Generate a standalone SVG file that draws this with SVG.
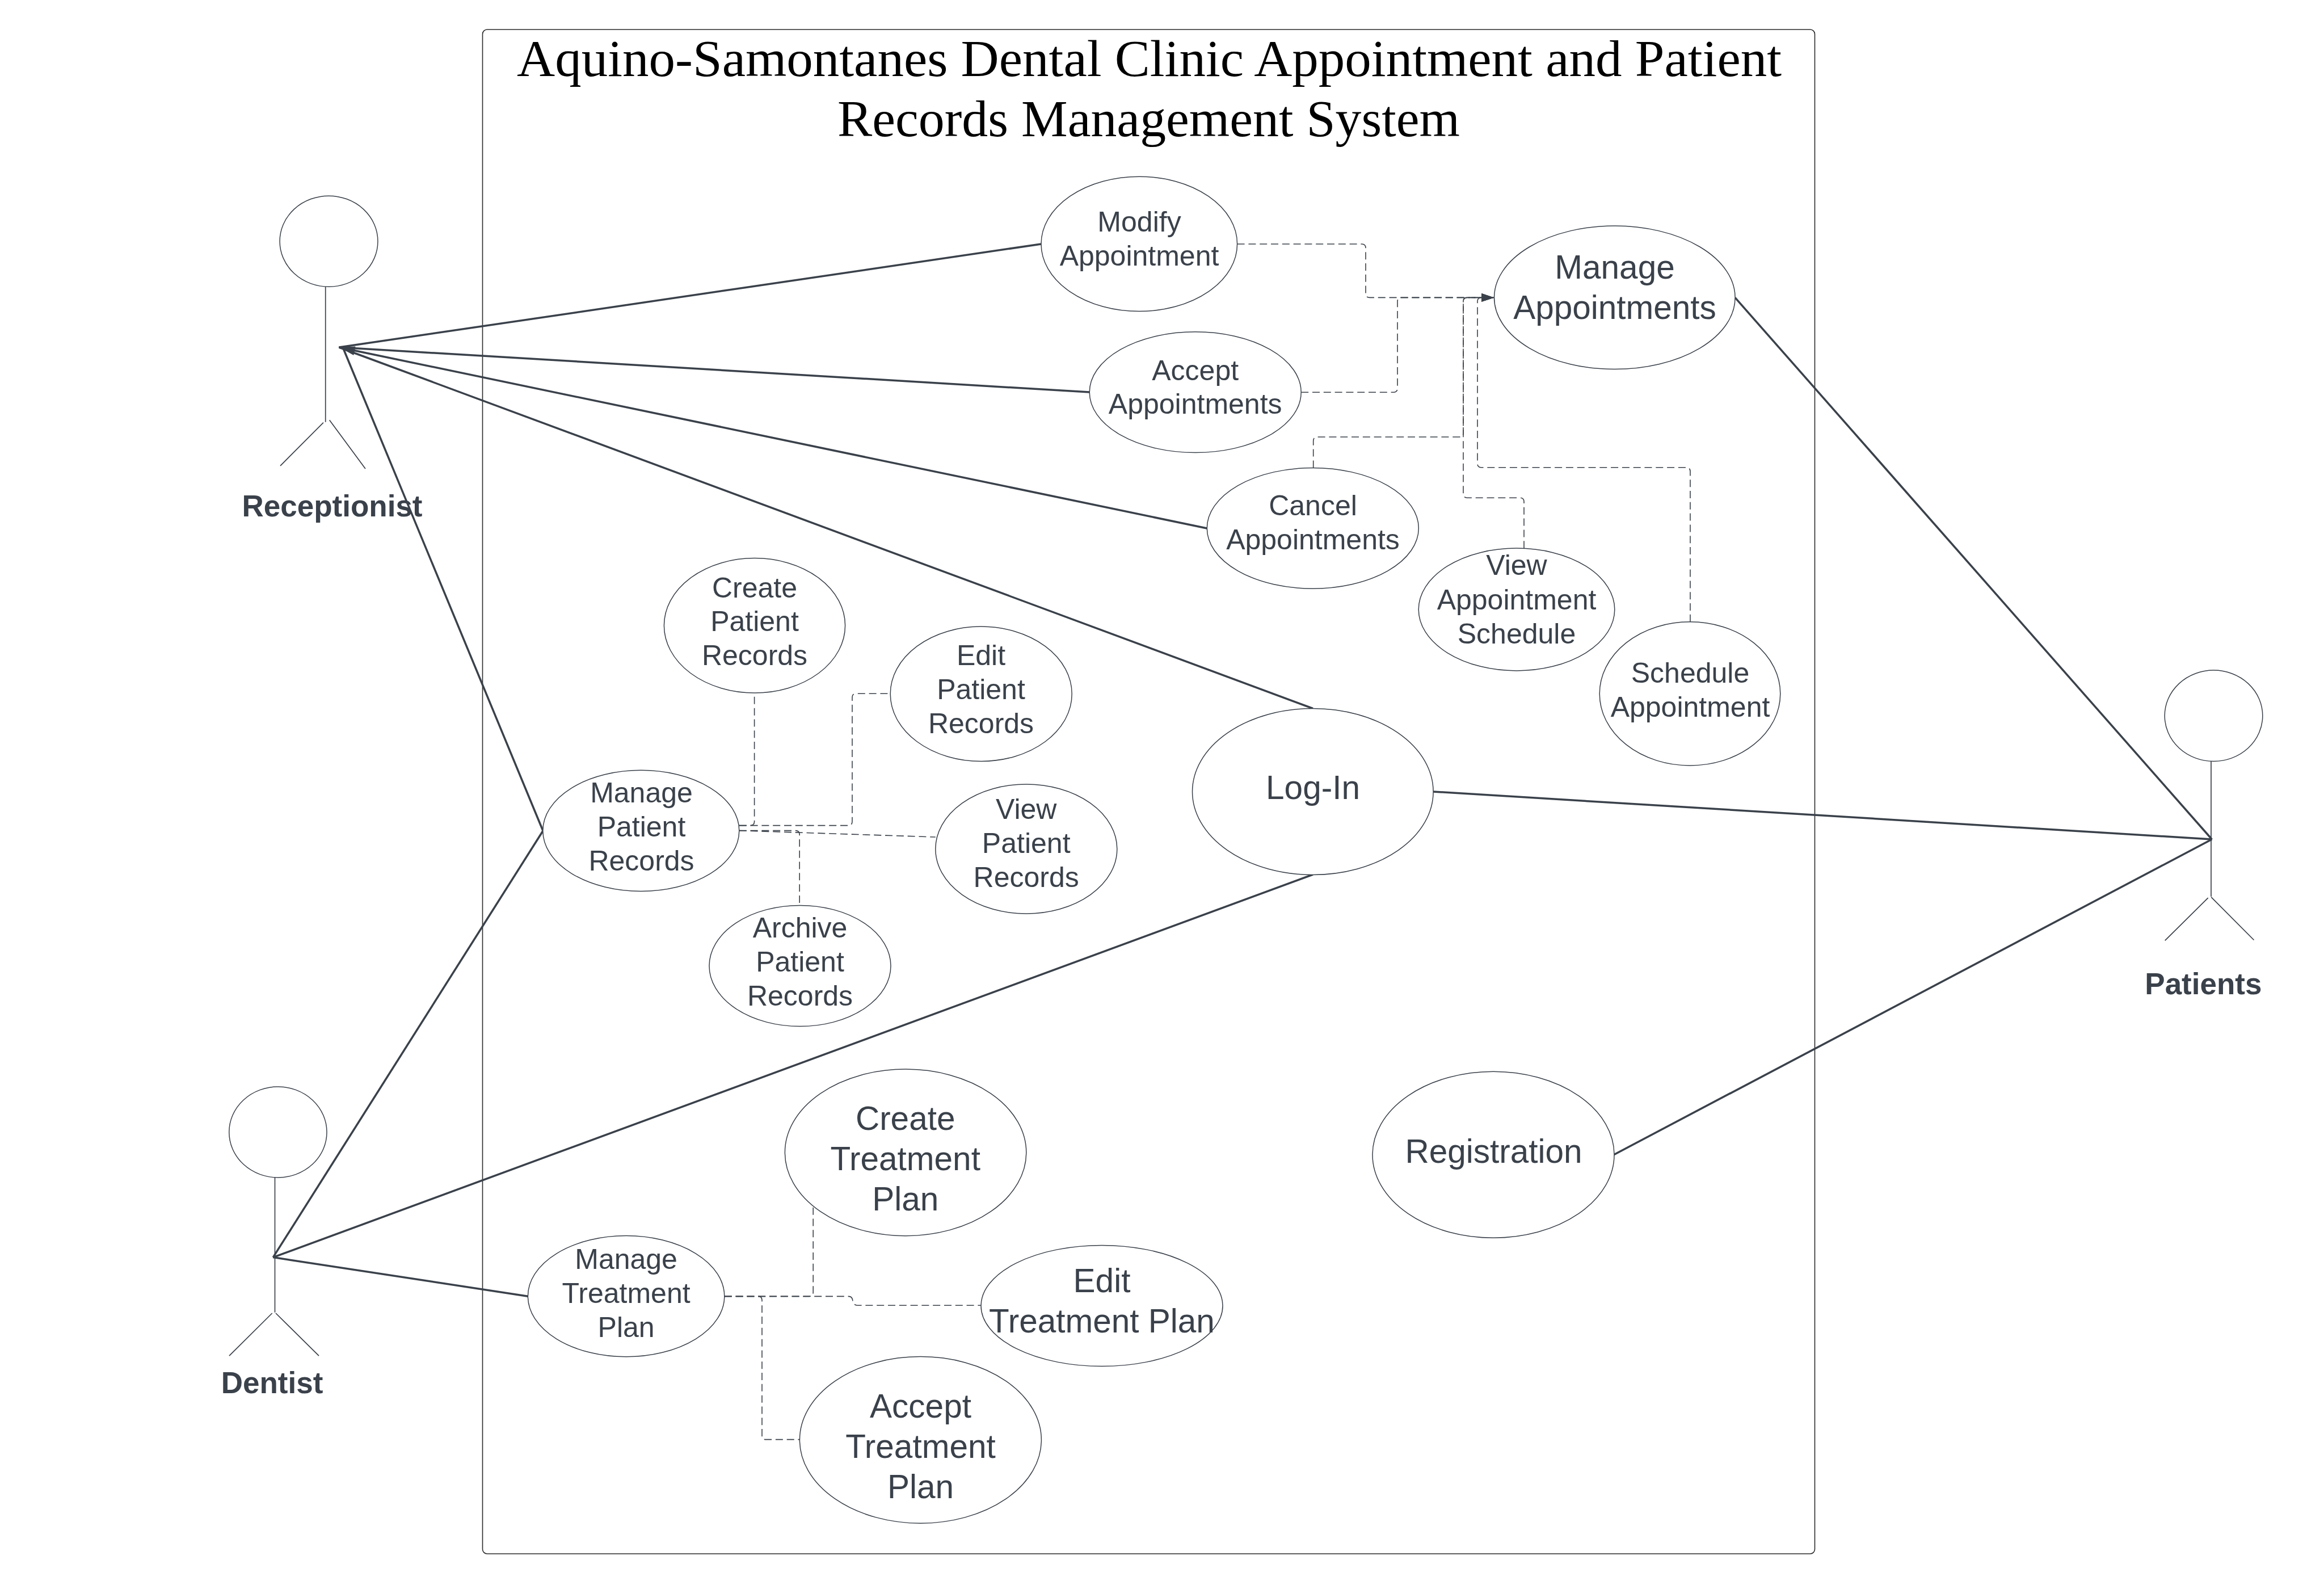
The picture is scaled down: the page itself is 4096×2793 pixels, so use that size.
<svg xmlns="http://www.w3.org/2000/svg" width="4096" height="2793" viewBox="0 0 4096 2793">
<style>
.bg{fill:#fff}
.sys{fill:none;stroke:#2b2b2b;stroke-width:1.6}
.uc{fill:#fff;stroke:#3a414a;stroke-width:1.5}
.body{fill:none;stroke:#3a414a;stroke-width:1.7}
.assoc{fill:none;stroke:#3a414a;stroke-width:3.5}
.dep{fill:none;stroke:#3a414a;stroke-width:1.6;stroke-dasharray:13 6.8}
.t{font-family:"Liberation Sans",Arial,sans-serif;fill:#3a414a;text-anchor:middle}
.s{font-size:50px}
.l{font-size:58.5px}
.a{font-size:53px;font-weight:bold}
.title{font-family:"Liberation Serif","Times New Roman",serif;font-size:92px;fill:#000;text-anchor:middle}
</style>
<defs>
<marker id="arrow" markerUnits="userSpaceOnUse" markerWidth="24" markerHeight="16" refX="22.5" refY="7.5" orient="auto">
<path d="M0 0L22.5 7.5L0 15Z" fill="#3a414a"/>
</marker>
</defs>
<rect class="bg" x="0" y="0" width="4096" height="2793"/>
<g id="system-boundary">
<rect class="sys" x="850.5" y="52" width="2348" height="2686" rx="8"/>
<text class="title" x="2025.5" y="133.5" textLength="2229" lengthAdjust="spacingAndGlyphs">Aquino-Samontanes Dental Clinic Appointment and Patient</text>
<text class="title" x="2024.5" y="240" textLength="1097" lengthAdjust="spacingAndGlyphs">Records Management System</text>
</g>
<g id="connectors">
<path class="assoc" d="M597.5 612L1835 430"/>
<path class="assoc" d="M597.5 612L1920 691"/>
<path class="assoc" d="M597.5 612L2127.3 931"/>
<path class="assoc" d="M597.5 612L2314 1248.5"/>
<path class="assoc" d="M605 614L957 1464"/>
<polygon points="598.2,612 626.5,610.5 623.3,626.1" fill="#3a414a"/>
<path class="assoc" d="M481.3 2215.6L957 1464"/>
<path class="assoc" d="M481.3 2215.6L2314 1541"/>
<path class="assoc" d="M481.3 2215.6L930.4 2284.2"/>
<path class="assoc" d="M3898.4 1479L3058 524.3"/>
<path class="assoc" d="M3898.4 1479L2526 1395"/>
<path class="assoc" d="M3898.4 1479L2844.5 2034.7"/>
<path class="dep" marker-end="url(#arrow)" d="M2180.6 430H2400Q2407 430 2407 437V517Q2407 524.4 2414 524.4H2633"/>
<path class="dep" marker-end="url(#arrow)" d="M2293.2 691.2H2456Q2463 691.2 2463 684V531Q2463 524.4 2470 524.4H2633"/>
<path class="dep" marker-end="url(#arrow)" d="M2314.7 824.4V777Q2314.7 770 2321.7 770H2572Q2579 770 2579 763V531Q2579 524.4 2586 524.4H2633"/>
<path class="dep" marker-end="url(#arrow)" d="M2686 966.2V884Q2686 877.2 2679 877.2H2586Q2579 877.2 2579 870V531Q2579 524.4 2586 524.4H2633"/>
<path class="dep" marker-end="url(#arrow)" d="M2979 1095.8V831Q2979 823.7 2972 823.7H2611Q2604 823.7 2604 817V531Q2604 524.4 2611 524.4H2633"/>
<path class="dep" d="M1302.8 1454.6H1322.6Q1329.6 1454.6 1329.6 1447.6V1221"/>
<path class="dep" d="M1302.8 1454.6H1495Q1502 1454.6 1502 1447.6V1229Q1502 1222.2 1509 1222.2H1569.2"/>
<path class="dep" d="M1302.8 1463.6L1648.8 1475"/>
<path class="dep" d="M1302.8 1463.6H1402Q1409.2 1463.6 1409.2 1470.6V1595.4"/>
<path class="dep" d="M1276.8 2284.4H1426Q1433.2 2284.4 1433.2 2277V2127.2"/>
<path class="dep" d="M1276.8 2284.4H1495Q1501.5 2284.4 1502.5 2290Q1504 2300.3 1511 2300.3H1728.9"/>
<path class="dep" d="M1276.8 2284.4H1336Q1343 2284.4 1343 2291V2530Q1343 2536.6 1350 2536.6H1409.2"/>
</g>
<g id="actor-receptionist">
<ellipse class="uc" cx="579.5" cy="425.2" rx="86.4" ry="80"/>
<path class="body" d="M573.7 505.2V743.8M570 744.6L494 820.8M580.7 740.2L644 826"/>
<text class="t a" x="585.5" y="909.5">Receptionist</text>
</g>
<g id="actor-dentist">
<ellipse class="uc" cx="489.9" cy="1995" rx="86.1" ry="80"/>
<path class="body" d="M484.5 2075.1V2312.8M479.7 2314L404 2389.2M486 2314L562 2389.2"/>
<text class="t a" x="479.5" y="2455.4">Dentist</text>
</g>
<g id="actor-patients">
<ellipse class="uc" cx="3901.5" cy="1261.3" rx="86.3" ry="80.2"/>
<path class="body" d="M3897 1341.5V1580M3891.7 1582.1L3815.7 1657.3M3897.2 1580.8L3972.5 1656.5"/>
<text class="t a" x="3883.4" y="1752.3">Patients</text>
</g>
<g id="uc-modify-appointment">
<ellipse class="uc" cx="2007.8" cy="429.9" rx="172.8" ry="118.7"/>
<text class="t s" x="2008" y="408.2">Modify</text>
<text class="t s" x="2008" y="467.5">Appointment</text>
</g>
<g id="uc-manage-appointments">
<ellipse class="uc" cx="2845.8" cy="524.3" rx="212.3" ry="126.3"/>
<text class="t l" x="2846" y="490.7">Manage</text>
<text class="t l" x="2846" y="561.5">Appointments</text>
</g>
<g id="uc-accept-appointments">
<ellipse class="uc" cx="2106.7" cy="691.2" rx="186.5" ry="106.4"/>
<text class="t s" x="2106.7" y="669.5">Accept</text>
<text class="t s" x="2106.7" y="729">Appointments</text>
</g>
<g id="uc-cancel-appointments">
<ellipse class="uc" cx="2313.8" cy="930.8" rx="186.5" ry="106.4"/>
<text class="t s" x="2314" y="908.3">Cancel</text>
<text class="t s" x="2314" y="968.3">Appointments</text>
</g>
<g id="uc-view-appointment-schedule">
<ellipse class="uc" cx="2673" cy="1074" rx="172.8" ry="107.9"/>
<text class="t s" x="2673" y="1013.2">View</text>
<text class="t s" x="2673" y="1074">Appointment</text>
<text class="t s" x="2673" y="1133.5">Schedule</text>
</g>
<g id="uc-schedule-appointment">
<ellipse class="uc" cx="2978.5" cy="1222.4" rx="159.3" ry="126.6"/>
<text class="t s" x="2979" y="1203">Schedule</text>
<text class="t s" x="2979" y="1263">Appointment</text>
</g>
<g id="uc-log-in">
<ellipse class="uc" cx="2313.8" cy="1395" rx="212.3" ry="146.5"/>
<text class="t l" x="2314" y="1407.5">Log-In</text>
</g>
<g id="uc-registration">
<ellipse class="uc" cx="2632" cy="2034.7" rx="213" ry="146.5"/>
<text class="t l" x="2632.5" y="2048.5">Registration</text>
</g>
<g id="uc-create-patient-records">
<ellipse class="uc" cx="1330" cy="1102.3" rx="159.6" ry="118.7"/>
<text class="t s" x="1330" y="1052.5">Create</text>
<text class="t s" x="1330" y="1112.4">Patient</text>
<text class="t s" x="1330" y="1172.3">Records</text>
</g>
<g id="uc-edit-patient-records">
<ellipse class="uc" cx="1729.2" cy="1222.8" rx="160" ry="118.7"/>
<text class="t s" x="1729" y="1172.3">Edit</text>
<text class="t s" x="1729" y="1232.3">Patient</text>
<text class="t s" x="1729" y="1292.3">Records</text>
</g>
<g id="uc-manage-patient-records">
<ellipse class="uc" cx="1129.8" cy="1463.9" rx="173" ry="106.6"/>
<text class="t s" x="1130.5" y="1414">Manage</text>
<text class="t s" x="1130.5" y="1474">Patient</text>
<text class="t s" x="1130.5" y="1534">Records</text>
</g>
<g id="uc-view-patient-records">
<ellipse class="uc" cx="1808.8" cy="1496" rx="160" ry="114"/>
<text class="t s" x="1808.7" y="1443">View</text>
<text class="t s" x="1808.7" y="1503">Patient</text>
<text class="t s" x="1808.7" y="1563">Records</text>
</g>
<g id="uc-archive-patient-records">
<ellipse class="uc" cx="1410" cy="1702" rx="160" ry="106.6"/>
<text class="t s" x="1410" y="1652">Archive</text>
<text class="t s" x="1410" y="1712">Patient</text>
<text class="t s" x="1410" y="1772">Records</text>
</g>
<g id="uc-create-treatment-plan">
<ellipse class="uc" cx="1596.1" cy="2030.9" rx="212.7" ry="146.8"/>
<text class="t l" x="1595.7" y="1990.5">Create</text>
<text class="t l" x="1595.7" y="2061.5">Treatment</text>
<text class="t l" x="1595.7" y="2132.8">Plan</text>
</g>
<g id="uc-manage-treatment-plan">
<ellipse class="uc" cx="1103.6" cy="2284.2" rx="173.2" ry="106.6"/>
<text class="t s" x="1103.6" y="2235.8">Manage</text>
<text class="t s" x="1103.6" y="2295.7">Treatment</text>
<text class="t s" x="1103.6" y="2355.7">Plan</text>
</g>
<g id="uc-edit-treatment-plan">
<ellipse class="uc" cx="1942" cy="2301" rx="213" ry="106.6"/>
<text class="t l" x="1942" y="2277">Edit</text>
<text class="t l" x="1942" y="2348.3">Treatment Plan</text>
</g>
<g id="uc-accept-treatment-plan">
<ellipse class="uc" cx="1622.4" cy="2537.4" rx="213" ry="146.8"/>
<text class="t l" x="1622.5" y="2497.5">Accept</text>
<text class="t l" x="1622.5" y="2568.5">Treatment</text>
<text class="t l" x="1622.5" y="2640">Plan</text>
</g>
</svg>
